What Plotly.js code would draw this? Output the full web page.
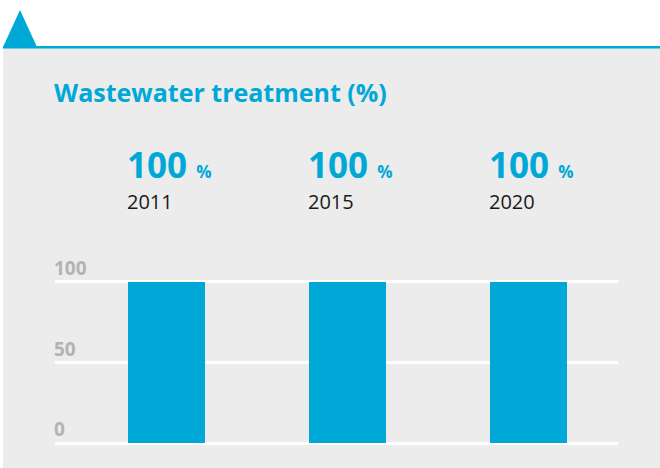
<!DOCTYPE html>
<html><head><meta charset="utf-8">
<script src="https://cdn.plot.ly/plotly-3.0.1.min.js"></script>
<style>html,body{margin:0;padding:0;background:#fff}#chart{width:660px;height:468px}</style>
</head><body><div id="chart"></div>
<script>
const years = ['2011', '2015', '2020'];
const values = [100, 100, 100];
const yTicks = [0, 50, 100];
const titleText = 'Wastewater treatment (%)';

const BLUE = '#00a8d7';
const W = 660, H = 468;
const L = 55, R = 42, T = 279, B = 23;
const pw = W - L - R, ph = H - T - B;
const px = x => (x - L) / pw;
const py = y => 1 - (y - T) / ph;

const barWidth = 0.425;
const shapes = [
  {type:'rect', xref:'paper', yref:'paper', x0:px(3), x1:px(660), y0:py(48), y1:py(468), fillcolor:'#ececec', line:{width:0}, layer:'below'},
  {type:'rect', xref:'paper', yref:'paper', x0:px(3), x1:px(660), y0:py(46), y1:py(48.5), fillcolor:BLUE, line:{width:0}, layer:'below'},
  {type:'path', xref:'paper', yref:'paper', path:`M ${px(3)} ${py(47)} L ${px(20)} ${py(10)} L ${px(37)} ${py(47)} Z`, fillcolor:BLUE, line:{width:0}, layer:'below'}
];

const annotations = [
  {xref:'paper', yref:'paper', x:px(55), y:py(92), xanchor:'left', yanchor:'middle', xshift:-3, text:'<b>'+titleText+'</b>', showarrow:false, font:{family:'Open Sans', size:25, color:BLUE}}
];
years.forEach((yr, i) => {
  annotations.push({xref:'x', yref:'paper', x:i - barWidth/2, y:py(164), xanchor:'left', yanchor:'middle', xshift:-3,
    text:'<b>'+values[i]+' <span style="font-size:17px">%</span></b>', showarrow:false, font:{family:'Open Sans', size:35, color:BLUE}});
  annotations.push({xref:'x', yref:'paper', x:i - barWidth/2, y:py(201), xanchor:'left', yanchor:'middle', xshift:-3,
    text:yr, showarrow:false, font:{family:'Open Sans', size:20, color:'#1a1a1a'}});
});
yTicks.forEach(v => {
  annotations.push({xref:'paper', yref:'y', x:0, y:v, xanchor:'left', yanchor:'bottom', xshift:-3, yshift:-1,
    text:'<b>'+v+'</b>', showarrow:false, font:{family:'Open Sans', size:19, color:'#b3b3b3'}});
});

Plotly.newPlot('chart', [{
  type:'bar', x:[0,1,2], y:values, width:barWidth, marker:{color:BLUE}, hoverinfo:'skip'
}], {
  width:W, height:H, margin:{l:L, r:R, t:T, b:B, pad:0},
  paper_bgcolor:'#ffffff', plot_bgcolor:'rgba(0,0,0,0)',
  showlegend:false, bargap:0,
  xaxis:{range:[-0.616, 2.494], showgrid:false, zeroline:false, showticklabels:false, showline:false, fixedrange:true},
  yaxis:{range:[-1.24, 101.86], tickvals:yTicks, showticklabels:false,
    showgrid:true, gridcolor:'#ffffff', gridwidth:3, zeroline:true, zerolinecolor:'#ffffff', zerolinewidth:3,
    showline:false, fixedrange:true},
  shapes, annotations
}, {displayModeBar:false, staticPlot:true});
</script></body></html>
